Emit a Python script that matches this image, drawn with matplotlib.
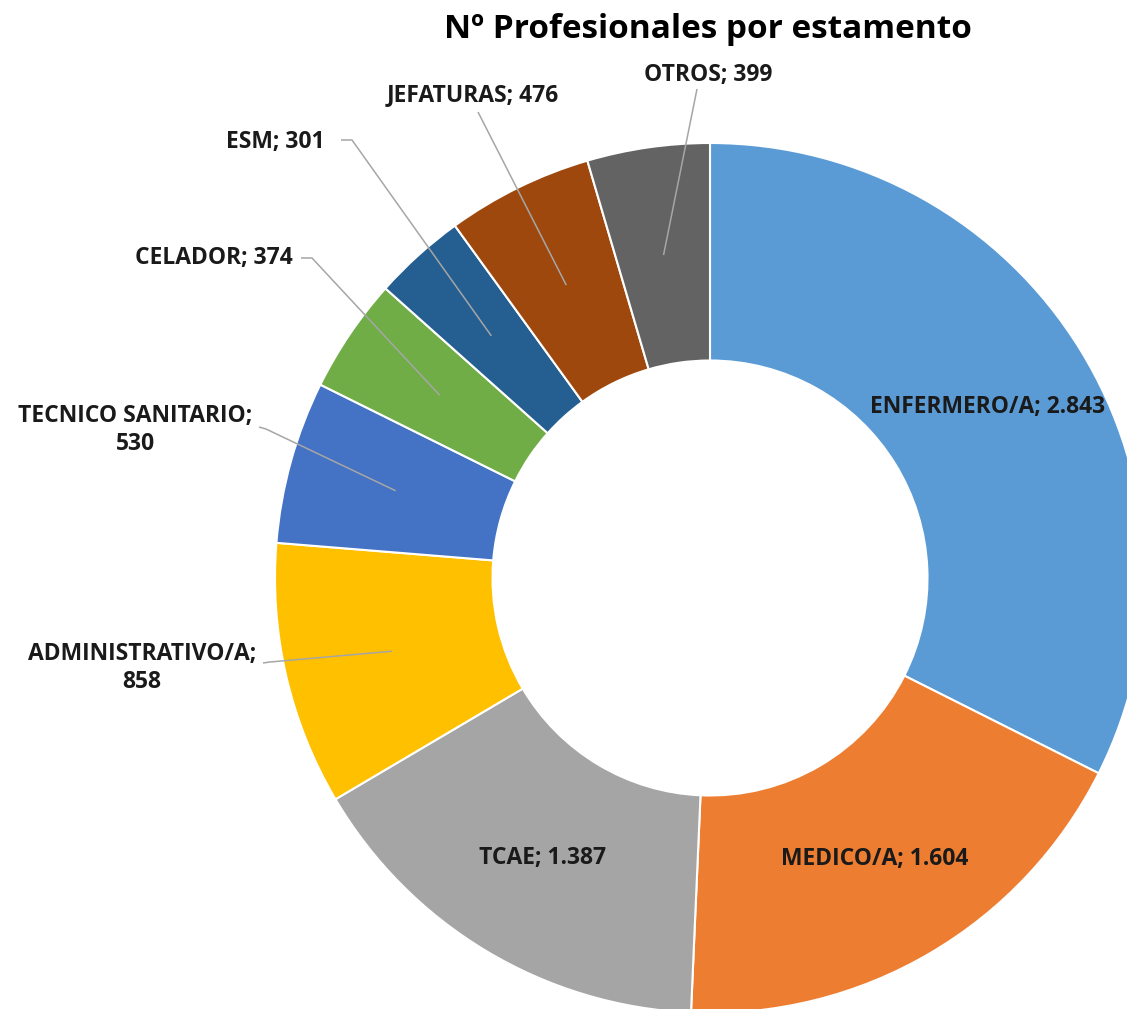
import numpy as np
import matplotlib.pyplot as plt

plt.rcParams['font.family'] = ['Open Sans', 'DejaVu Sans']

# data
categorias = ["ENFERMERO/A", "MEDICO/A", "TCAE", "ADMINISTRATIVO/A", "TECNICO SANITARIO",
              "CELADOR", "ESM", "JEFATURAS", "OTROS"]
valores = [2843, 1604, 1387, 858, 530, 374, 301, 476, 399]
colores = ["#5B9BD5", "#ED7D31", "#A5A5A5", "#FFC000", "#4472C4",
           "#70AD47", "#255E91", "#9E480E", "#636363"]

# layout in pixels (figure 1127x1009), pie centre and radius
W, H = 1127, 1009
CX, CY, R = 710, 578, 435


def px(x, y):
    return (x - CX) / R, (CY - y) / R


def fmt(v):
    return f"{v:,}".replace(",", ".")


# label placement for outer labels: text centre, leader points (pixels)
fuera = {
    "OTROS": dict(txt=(708, 75), linea=[(697, 89)], texto="OTROS; {}"),
    "JEFATURAS": dict(txt=(473, 95), linea=[(478, 112)], texto="JEFATURAS; {}"),
    "ESM": dict(txt=(275, 142), linea=[(352, 140), (341, 140)], texto="ESM; {}"),
    "CELADOR": dict(txt=(214, 258), linea=[(312, 258), (301, 258)], texto="CELADOR; {}"),
    "TECNICO SANITARIO": dict(txt=(135, 430), linea=[(266, 429), (259, 427)],
                              texto="TECNICO SANITARIO;\n{}"),
    "ADMINISTRATIVO/A": dict(txt=(142, 668), linea=[(270, 662), (263, 663)],
                             texto="ADMINISTRATIVO/A;\n{}"),
}

fig = plt.figure(figsize=(W / 100, H / 100), dpi=100)
ax = fig.add_axes([0, 0, 1, 1])
wedges, _ = ax.pie(valores, colors=colores, startangle=90, counterclock=False, radius=1,
                   wedgeprops=dict(width=0.5, edgecolor="white", linewidth=1.5))
ax.set_xlim(-CX / R, (W - CX) / R)
ax.set_ylim((CY - H) / R, CY / R)
ax.axis("off")

for w, cat, v in zip(wedges, categorias, valores):
    ang = np.deg2rad((w.theta1 + w.theta2) / 2)
    ancla = (0.75 * np.cos(ang), 0.75 * np.sin(ang))
    if cat in fuera:
        d = fuera[cat]
        pts = [ancla] + [px(*p) for p in d["linea"]]
        ax.plot([p[0] for p in pts], [p[1] for p in pts], color="#A6A6A6", lw=1.1,
                solid_capstyle="butt")
        tx, ty = px(*d["txt"])
        ax.text(tx, ty, d["texto"].format(fmt(v)), ha="center", va="center",
                fontsize=16.5, fontweight="bold", color="#1a1a1a", linespacing=1.2)
    else:
        ax.text(ancla[0], ancla[1], f"{cat}; {fmt(v)}", ha="center", va="center",
                fontsize=16.5, fontweight="bold", color="#1a1a1a")

fig.text(708 / W, 1 - 29 / H, "Nº Profesionales por estamento", ha="center", va="center",
         fontsize=24, fontweight="bold", color="#000000")

fig.savefig("out.png", dpi=100)
